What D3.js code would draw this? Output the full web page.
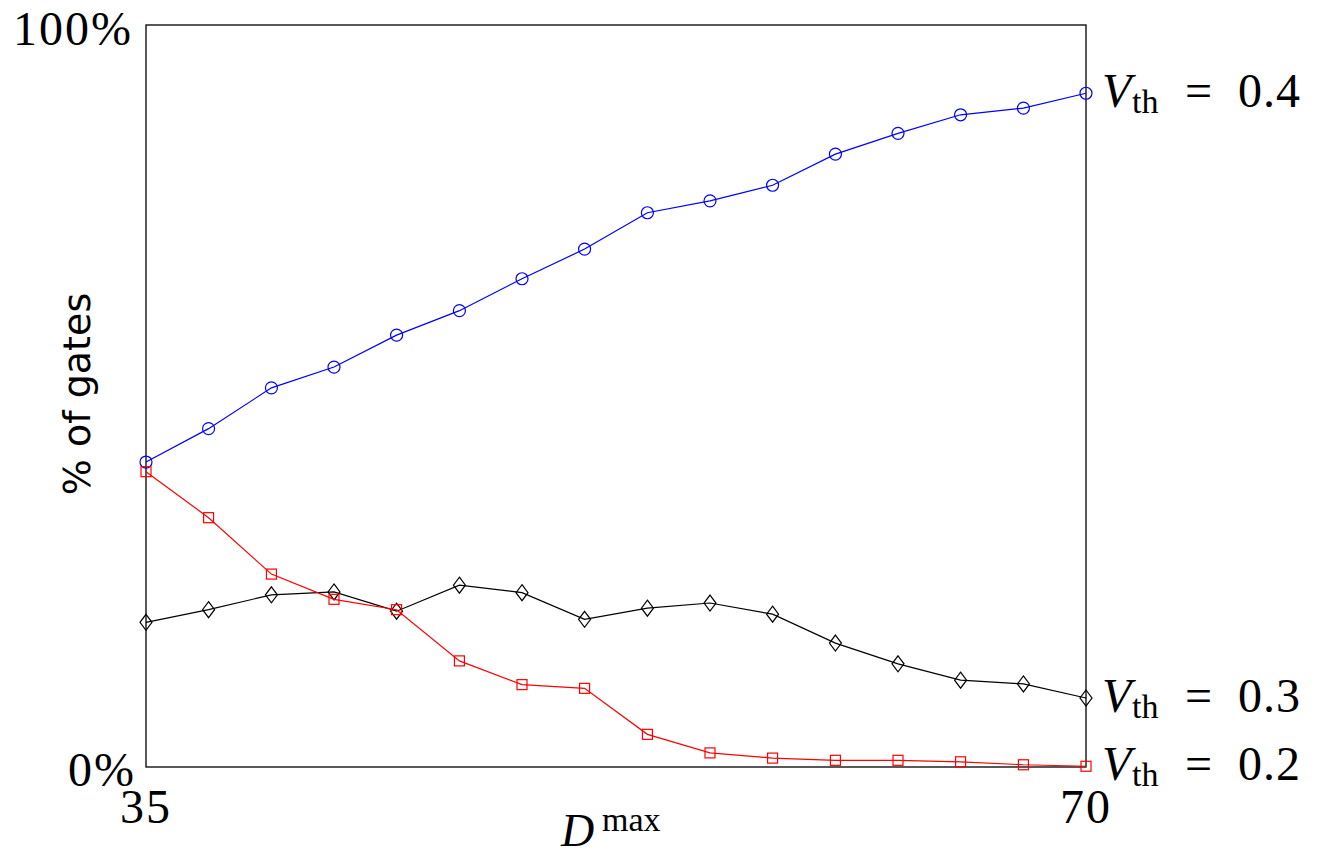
<!DOCTYPE html>
<html lang="en">
<head>
    <meta charset="UTF-8">
    <title> Gates chart </title>
    <script src="https://cdn.jsdelivr.net/npm/d3@7"></script>
    <style>
        body { margin: 0; background: #fff; }
        text { font-family: "Liberation Serif", "DejaVu Serif", serif; }
    </style>
</head>
<body>
<svg width="1317" height="856"></svg>
<script>
    // D^max values (16 evenly spaced from 35 to 70)
    let dmax = [35, 37.33, 39.67, 42, 44.33, 46.67, 49, 51.33, 53.67, 56, 58.33, 60.67, 63, 65.33, 67.67, 70]
    let vth04 = [41.1, 45.6, 51.1, 53.9, 58.2, 61.5, 65.8, 69.8, 74.7, 76.3, 78.4, 82.6, 85.4, 87.9, 88.8, 90.8]
    let vth03 = [19.5, 21.2, 23.2, 23.6, 21.0, 24.5, 23.5, 19.9, 21.4, 22.1, 20.6, 16.7, 13.9, 11.7, 11.2, 9.3]
    let vth02 = [39.8, 33.6, 26.0, 22.6, 21.2, 14.3, 11.1, 10.6, 4.4, 1.9, 1.2, 0.9, 0.9, 0.7, 0.3, 0.1]
    let seriesNames = ['0.4', '0.3', '0.2']
    let yTicks = [0, 100]
    let xTicks = [35, 70]

    let svg = d3.select('svg');
    let pLeft = 146, pRight = 1086, pTop = 25, pBottom = 767;

    let scaleX = d3.scaleLinear().domain([35, 70]).range([pLeft, pRight])
    let scaleY = d3.scaleLinear().domain([0, 100]).range([pBottom, pTop])

    // frame
    svg.append('rect')
        .attr('x', pLeft).attr('y', pTop)
        .attr('width', pRight - pLeft).attr('height', pBottom - pTop)
        .attr('fill', 'none').attr('stroke', '#000').attr('stroke-width', 1.3)

    let series = [
        {name: seriesNames[0], vals: vth04, color: '#0000ff', marker: 'circle'},
        {name: seriesNames[1], vals: vth03, color: '#000000', marker: 'diamond'},
        {name: seriesNames[2], vals: vth02, color: '#ff0000', marker: 'square'}
    ]

    let line = d3.line()
        .x((d, i) => scaleX(dmax[i]))
        .y(d => scaleY(d))

    series.forEach(function (s) {
        let g = svg.append('g')
        g.append('path')
            .attr('d', line(s.vals))
            .attr('fill', 'none')
            .attr('stroke', s.color)
            .attr('stroke-width', 1.2)

        let pts = g.selectAll('.m').data(s.vals).enter()
        if (s.marker === 'circle') {
            pts.append('circle')
                .attr('cx', (d, i) => scaleX(dmax[i]))
                .attr('cy', d => scaleY(d))
                .attr('r', 6)
                .attr('fill', 'none').attr('stroke', s.color).attr('stroke-width', 1.2)
        } else if (s.marker === 'square') {
            pts.append('rect')
                .attr('x', (d, i) => scaleX(dmax[i]) - 5)
                .attr('y', d => scaleY(d) - 5)
                .attr('width', 10).attr('height', 10)
                .attr('fill', 'none').attr('stroke', s.color).attr('stroke-width', 1.2)
        } else {
            pts.append('path')
                .attr('d', (d, i) => {
                    let x = scaleX(dmax[i]), y = scaleY(d)
                    return `M${x},${y - 8}L${x + 6},${y}L${x},${y + 8}L${x - 6},${y}Z`
                })
                .attr('fill', 'none').attr('stroke', s.color).attr('stroke-width', 1.2)
        }

        // right-hand label: V_th = value
        let last = s.vals[s.vals.length - 1]
        let by = scaleY(last) + 14
        let t = svg.append('text').attr('y', by).attr('font-size', 48)
        t.append('tspan').attr('x', pRight + 16).attr('font-style', 'italic').text('V')
        t.append('tspan').attr('x', pRight + 46).attr('y', by + 6).attr('font-size', 34).text('th')
        t.append('tspan').attr('x', pRight + 99).attr('y', by).text('=')
        t.append('tspan').attr('x', pRight + 152).attr('letter-spacing', 1).text(s.name)
    })

    // y tick labels
    svg.selectAll('.ytick').data(yTicks).enter()
        .append('text')
        .attr('x', d => d === 100 ? 133 : 136)
        .attr('y', d => d === 100 ? 45 : scaleY(d) + 19)
        .attr('text-anchor', 'end')
        .attr('font-size', 48)
        .attr('letter-spacing', 2)
        .text(d => d + '%')

    // x tick labels
    svg.selectAll('.xtick').data(xTicks).enter()
        .append('text')
        .attr('x', d => scaleX(d))
        .attr('y', 823)
        .attr('text-anchor', 'middle')
        .attr('font-size', 48)
        .attr('letter-spacing', 2)
        .text(d => d)

    // x axis title
    let xt = svg.append('text')
        .attr('y', 846)
        .attr('font-size', 46)
    xt.append('tspan').attr('x', 561).attr('font-style', 'italic').text('D')
    xt.append('tspan').attr('x', 602).attr('y', 831).attr('font-size', 34).text('max')

    // y axis title
    svg.append('text')
        .attr('transform', 'translate(90,394) rotate(-90)')
        .attr('text-anchor', 'middle')
        .attr('font-size', 38)
        .style('font-family', '"DejaVu Sans", sans-serif')
        .text('% of gates')
</script>
</body>
</html>
